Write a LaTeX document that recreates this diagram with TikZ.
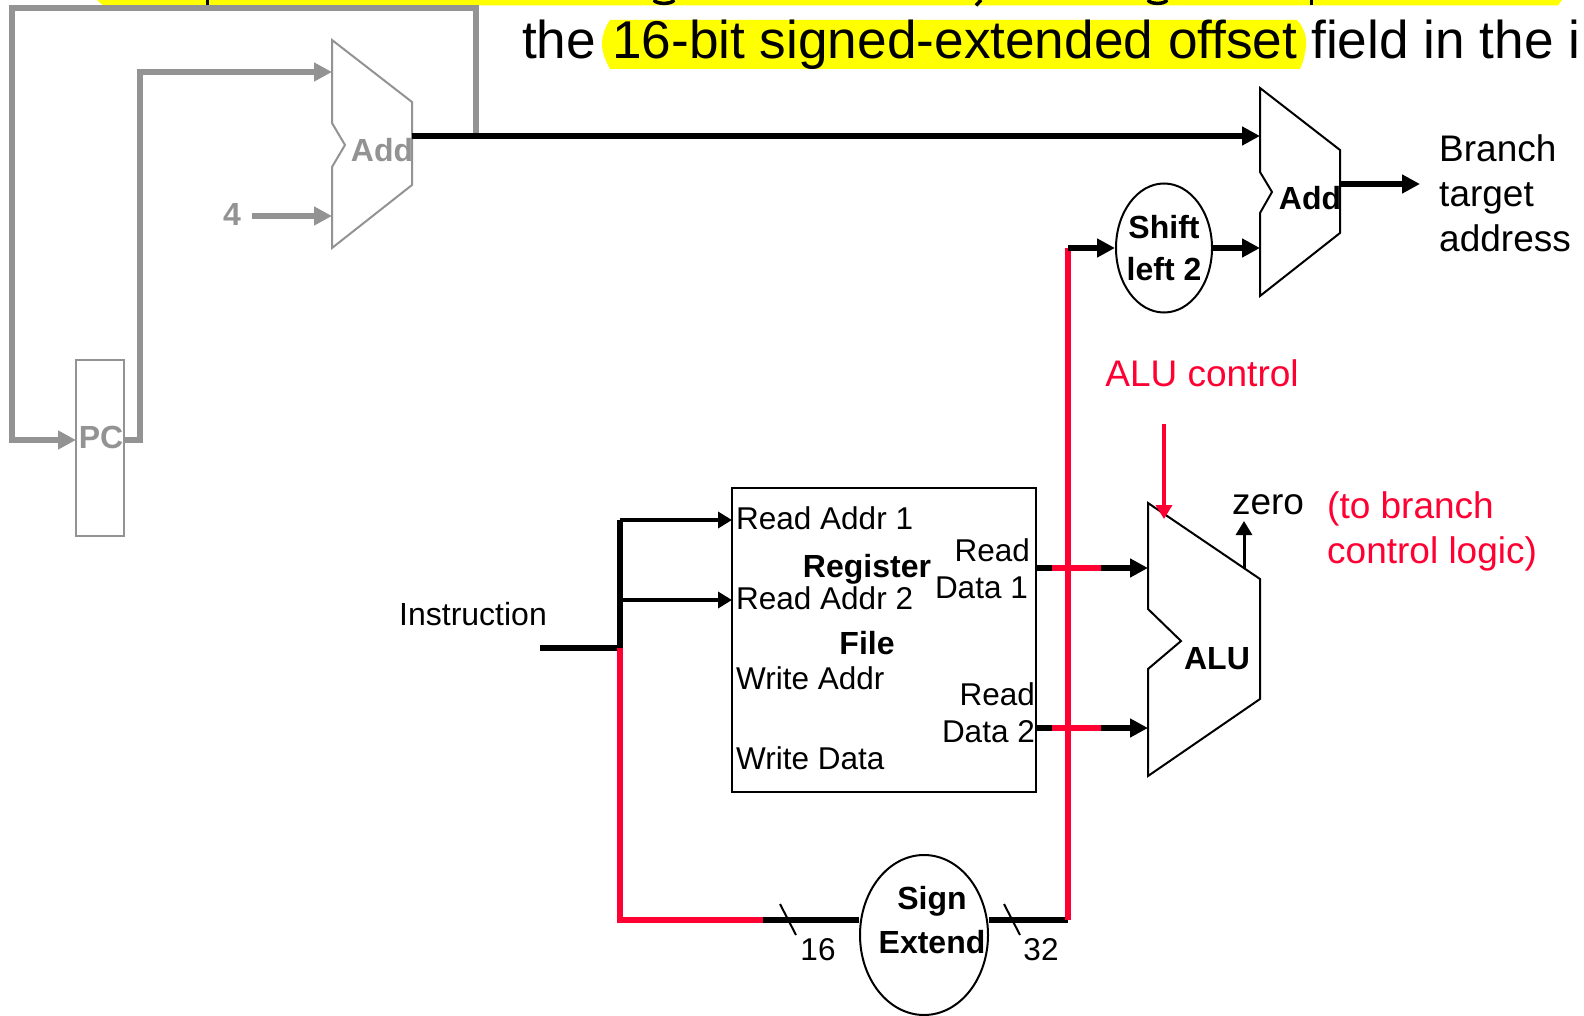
\documentclass[tikz,border=0pt]{standalone}
\usepackage{fontspec}
\setmainfont{Liberation Sans}
\usetikzlibrary{shapes.geometric,arrows.meta}
\definecolor{pathgray}{HTML}{939393}
\definecolor{pathred}{HTML}{FF0033}
\definecolor{notemark}{HTML}{FFFF00}
\tikzset{
  bigwire/.style={line width=5.5pt,-{Triangle[length=18pt,width=18pt]}},
  plainwire/.style={line width=5.5pt},
  thinwire/.style={line width=4pt,-{Triangle[length=14pt,width=16pt]}},
  unitline/.style={line width=2pt,line join=miter},
  lbl/.style={inner sep=0pt,font=\fontsize{31.5}{31.5}\selectfont},
  biglbl/.style={inner sep=0pt,font=\fontsize{37}{37}\selectfont},
  boldlbl/.style={inner sep=0pt,font=\fontsize{32}{32}\selectfont\bfseries},
  headlbl/.style={anchor=base west,inner sep=0pt,font=\fontsize{53.2}{53.2}\selectfont},
  ellipseunit/.style={ellipse,draw,line width=2pt,inner sep=0pt}
}
\begin{document}
\begin{tikzpicture}[x=1pt,y=-1pt]
\useasboundingbox (0,0) rectangle (1584,1016);
\clip (0,0) rectangle (1584,1016);
\fill[white] (0,0) rectangle (1584,1016); %Page
\fill[notemark] (97,0)--(1562,0)--(1558,5.5)--(103,5.5)--cycle; %Cut off line at the top
\fill[black] (206,0) rectangle (208.5,5.5); %Descenders of the cut off line
\draw[line width=3.5pt] (654,0) .. controls (656,4.5) and (672,4.5) .. (674,0);
\draw[line width=3.5pt] (981,0)--(976,5.5);
\draw[line width=3.5pt] (1148,0) .. controls (1150,4.5) and (1165,4.5) .. (1167,0);
\fill[black] (1310,0) rectangle (1312.5,5.5);
\fill[notemark] (610,20)--(1297,20) .. controls (1304,27) and (1307,38) .. (1306,46) .. controls (1305,55) and (1303,63) .. (1300,69)--(610,69) .. controls (605,60) and (602,52) .. (602,44) .. controls (602,36) and (605,27) .. (610,20)--cycle; %Highlight
\node[headlbl] (heading) at (522,59) {the};
\node[headlbl] (offsetfield) at (612,59) {16-bit signed-extended offset};
\node[headlbl] (fieldrest) at (1311,59) {field in the i};
%Grey part
\draw[pathgray,unitline] (332,40)--(412,102)--(412,185)--(332,248)--(332,167)--(345,145)--(332,123)--cycle; %First adder
\node[boldlbl,text=pathgray] (addone) at (382,150) {Add};
\node[draw=pathgray,unitline,minimum width=48pt,minimum height=176pt,inner sep=0pt] (pc) at (100,448) {};
\node[boldlbl,text=pathgray] (pctext) at (101,437) {PC};
\node[boldlbl,text=pathgray] (four) at (232,214) {4};
\coordinate (addonein) at (332,72);
\coordinate (addonefour) at (332,216);
\coordinate (addoneout) at (412,136);
\coordinate (loopstart) at (476,136);
\coordinate (pcin) at (76,440);
\coordinate (pcout) at (124,440);
\coordinate (fourstart) at (252,216);
\draw[bigwire,pathgray] (pcout)--(140,440)--(140,72)--(addonein);
\draw[bigwire,pathgray] (loopstart)--(476,8)--(12,8)--(12,440)--(pcin);
\draw[bigwire,pathgray] (fourstart)--(addonefour);
%Second adder and shifter
\coordinate (addtwoin) at (1260,136);
\coordinate (addtwolow) at (1260,248);
\coordinate (addtwoout) at (1340,184);
\coordinate (targetend) at (1420,184);
\draw[unitline] (1260,88)--(1340,150)--(1340,233)--(1260,296)--(1260,213)--(1272,192)--(1260,172)--cycle;
\node[boldlbl] (addtwo) at (1310,198) {Add};
\node[ellipseunit,minimum width=96pt,minimum height=129pt] (shift) at (1164,248) {};
\node[boldlbl] (shifttop) at (1164,227) {Shift};
\node[boldlbl] (shiftlow) at (1164,269) {left 2};
\node[biglbl,anchor=base west] (branch) at (1439,162) {Branch};
\node[biglbl,anchor=base west] (target) at (1439,207) {target};
\node[biglbl,anchor=base west] (address) at (1439,252) {address};
\draw[bigwire] (addoneout)--(addtwoin);
\draw[bigwire] (shift.east)--(addtwolow);
\draw[bigwire] (addtwoout)--(targetend);
%Register file
\node[draw,unitline,minimum width=304pt,minimum height=304pt,inner sep=0pt] (regfile) at (884,640) {};
\node[boldlbl] (regone) at (867,569) {Register};
\node[boldlbl] (regtwo) at (867,643) {File};
\node[lbl,anchor=west] (raddrone) at (736,518) {Read Addr 1};
\node[lbl,anchor=west] (raddrtwo) at (736,598) {Read Addr 2};
\node[lbl,anchor=west] (waddr) at (736,678) {Write Addr};
\node[lbl,anchor=west] (wdata) at (736,758) {Write Data};
\node[lbl,anchor=east] (rdone) at (1030,550) {Read};
\node[lbl,anchor=east] (dataone) at (1028,588) {Data 1};
\node[lbl,anchor=east] (rdtwo) at (1035,694) {Read};
\node[lbl,anchor=east] (datatwo) at (1035,732) {Data 2};
\node[lbl,font=\fontsize{32}{32}\selectfont] (instr) at (473,614) {Instruction};
\coordinate (instrstart) at (540,648);
\coordinate (instrjoin) at (620,648);
\coordinate (regaddrone) at (732,520);
\coordinate (regaddrtwo) at (732,600);
\draw[plainwire] (instrstart)--(instrjoin);
\draw[plainwire] (620,520)--(instrjoin);
\draw[thinwire] (620,520)--(regaddrone);
\draw[thinwire] (620,600)--(regaddrtwo);
%Sign extend
\node[ellipseunit,minimum width=128pt,minimum height=160pt] (signext) at (924,935) {};
\node[boldlbl] (signtext) at (932,901) {Sign};
\node[boldlbl] (extendtext) at (932,942) {Extend};
\coordinate (redturn) at (620,920);
\coordinate (redstop) at (763,920);
\coordinate (busturn) at (1068,920);
\coordinate (shiftturn) at (1068,248);
\draw[plainwire] (redstop)--(signext.west|-redstop);
\draw[plainwire] (signext.east|-busturn)--(busturn);
\draw[plainwire,pathred,line join=miter] (instrjoin)--(redturn)--(redstop);
\draw[line width=2pt] (780,904)--(796,935); %Bus tick 16
\draw[line width=2pt] (1004,904)--(1020,935); %Bus tick 32
\node[lbl] (bussixteen) at (818,950) {16};
\node[lbl] (busthirtytwo) at (1041,950) {32};
%ALU
\coordinate (aluinone) at (1148,568);
\coordinate (aluintwo) at (1148,728);
\draw[unitline] (1148,503)--(1260,579)--(1260,699)--(1148,776)--(1148,669)--(1181,641)--(1148,609)--cycle;
\node[boldlbl] (alu) at (1217,659) {ALU};
\draw[plainwire] (1036,568)--(1052,568);
\draw[plainwire] (1036,728)--(1052,728);
\draw[bigwire] (1101,568)--(aluinone);
\draw[bigwire] (1101,728)--(aluintwo);
\draw[plainwire,pathred] (1052,568)--(1101,568);
\draw[plainwire,pathred] (1052,728)--(1101,728);
\draw[plainwire,pathred] (busturn)--(shiftturn);
\draw[bigwire] (shiftturn)--(shift.west);
\node[biglbl,text=pathred] (alucontrol) at (1202,373) {ALU control};
\coordinate (controlstart) at (1164,424);
\coordinate (controlend) at (1164,519);
\draw[thinwire,pathred] (controlstart)--(controlend);
\coordinate (zerostart) at (1244,568);
\coordinate (zeroend) at (1244,521);
\draw[thinwire,line width=3pt] (zerostart)--(zeroend);
\node[biglbl] (zero) at (1268,505) {zero};
\node[biglbl,text=pathred,anchor=west] (tobranch) at (1327,509) {(to branch};
\node[biglbl,text=pathred,anchor=west] (logic) at (1327,554) {control logic)};
\end{tikzpicture}
\end{document}
